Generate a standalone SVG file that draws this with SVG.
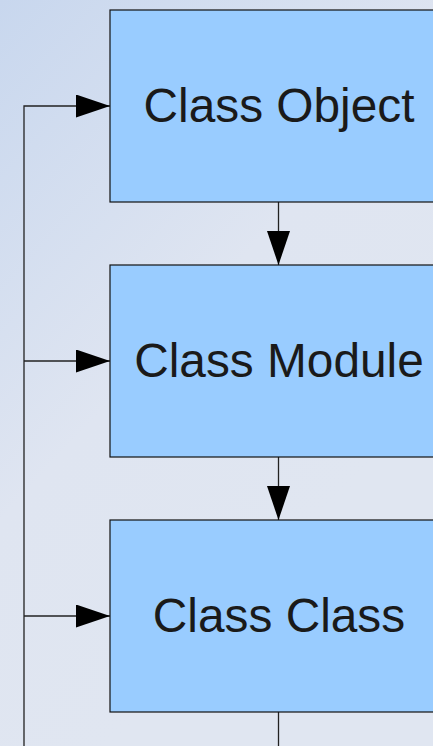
<svg xmlns="http://www.w3.org/2000/svg" width="433" height="746" viewBox="0 0 433 746">
  <defs>
    <linearGradient id="bg" x1="0" y1="0" x2="433" y2="400" gradientUnits="userSpaceOnUse">
      <stop offset="0" stop-color="#c8d7ee"/>
      <stop offset="0.6" stop-color="#dfe5f1"/>
      <stop offset="1" stop-color="#e0e6f1"/>
    </linearGradient>
    <marker id="arrow" markerWidth="34" markerHeight="23" refX="34" refY="11.5" orient="auto" markerUnits="userSpaceOnUse">
      <path d="M0,0 L34,11.5 L0,23 Z" fill="#000"/>
    </marker>
    <style>
      .box { fill: #99ccff; stroke: #111; stroke-width: 1.2; }
      .label { font-family: "Liberation Sans", Arial, sans-serif; font-size: 47.8px; fill: #1a1a1a; text-anchor: middle; }
      .conn { fill: none; stroke: #222; stroke-width: 1.3; }
    </style>
  </defs>
  <rect x="0" y="0" width="433" height="746" fill="url(#bg)"/>

  <g id="connectors">
    <path class="conn" d="M24,746 L24,106 L110,106" marker-end="url(#arrow)"/>
    <path class="conn" d="M24,361 L110,361" marker-end="url(#arrow)"/>
    <path class="conn" d="M24,616 L110,616" marker-end="url(#arrow)"/>
    <path class="conn" d="M278.5,202 L278.5,265" marker-end="url(#arrow)"/>
    <path class="conn" d="M278.5,457 L278.5,520" marker-end="url(#arrow)"/>
    <path class="conn" d="M278.5,712 L278.5,746"/>
  </g>

  <g id="class-object">
    <rect class="box" x="110" y="10" width="338" height="192"/>
    <text class="label" x="279" y="122">Class Object</text>
  </g>
  <g id="class-module">
    <rect class="box" x="110" y="265" width="338" height="192"/>
    <text class="label" x="279" y="377">Class Module</text>
  </g>
  <g id="class-class">
    <rect class="box" x="110" y="520" width="338" height="192"/>
    <text class="label" x="279" y="632">Class Class</text>
  </g>
</svg>
